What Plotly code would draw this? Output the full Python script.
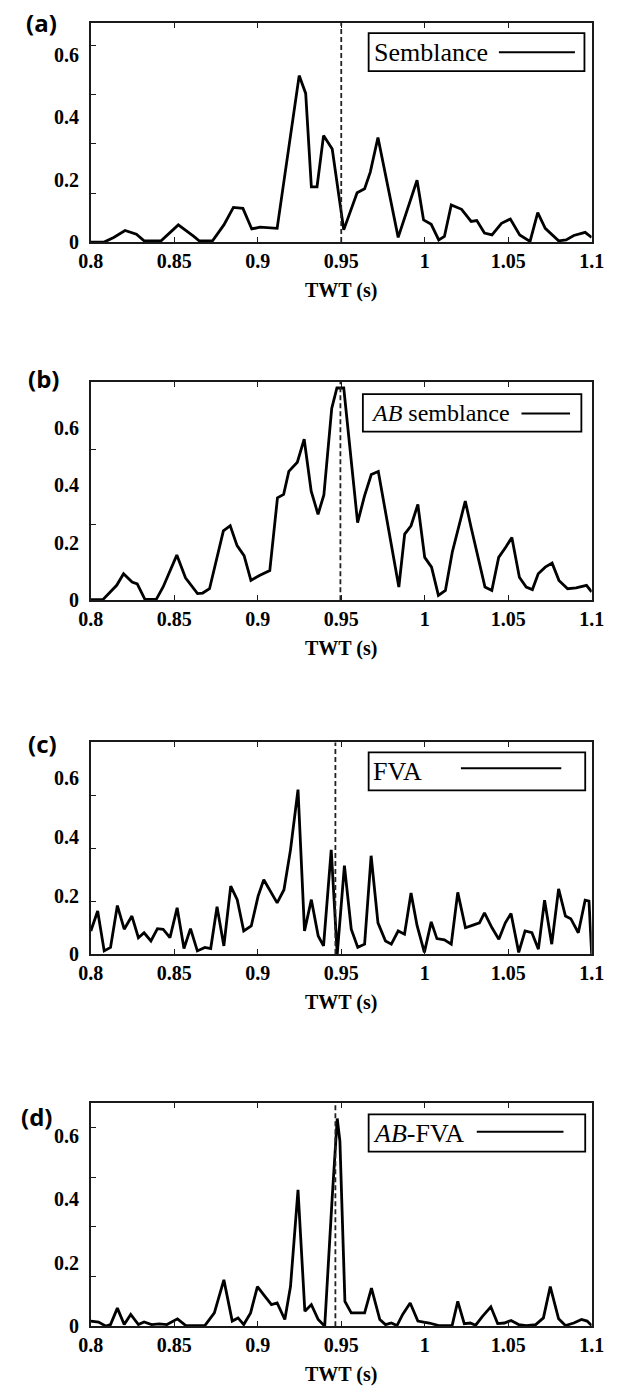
import plotly.graph_objects as go

W, H = 620, 1396

# ---------------- data ----------------
twt_a = [0.8000, 0.8080, 0.8137, 0.8205, 0.8273, 0.8319, 0.8421, 0.8524, 0.8615, 0.8649,
         0.8729, 0.8797, 0.8854, 0.8911, 0.8964, 0.9014, 0.9116, 0.9248, 0.9287, 0.9321,
         0.9355, 0.9394, 0.9446, 0.9515, 0.9595, 0.9640, 0.9674, 0.9720, 0.9841, 0.9954,
         0.9993, 1.0039, 1.0084, 1.0118, 1.0159, 1.0221, 1.0278, 1.0312, 1.0358, 1.0403,
         1.0460, 1.0513, 1.0569, 1.0631, 1.0677, 1.0722, 1.0802, 1.0847, 1.0893, 1.0961,
         1.1000]
semblance = [0.000, 0.000, 0.015, 0.037, 0.025, 0.004, 0.004, 0.055, 0.019, 0.004,
             0.004, 0.055, 0.111, 0.108, 0.042, 0.048, 0.044, 0.533, 0.476, 0.177,
             0.177, 0.341, 0.298, 0.039, 0.158, 0.171, 0.224, 0.335, 0.015, 0.198,
             0.071, 0.057, 0.007, 0.018, 0.119, 0.105, 0.066, 0.069, 0.029, 0.023,
             0.060, 0.074, 0.023, 0.002, 0.094, 0.044, 0.004, 0.007, 0.021, 0.031,
             0.015]

twt_b = [0.8000, 0.8072, 0.8155, 0.8196, 0.8247, 0.8278, 0.8324, 0.8392, 0.8433, 0.8515,
         0.8567, 0.8639, 0.8670, 0.8711, 0.8794, 0.8835, 0.8876, 0.8918, 0.8959, 0.9010,
         0.9072, 0.9118, 0.9155, 0.9186, 0.9237, 0.9278, 0.9320, 0.9361, 0.9396, 0.9443,
         0.9474, 0.9515, 0.9598, 0.9639, 0.9680, 0.9722, 0.9845, 0.9880, 0.9918, 0.9959,
         1.0000, 1.0041, 1.0082, 1.0124, 1.0165, 1.0243, 1.0278, 1.0361, 1.0402, 1.0443,
         1.0485, 1.0522, 1.0567, 1.0608, 1.0645, 1.0680, 1.0722, 1.0763, 1.0804, 1.0856,
         1.0907, 1.0969, 1.1000]
ab_semblance = [0.002, 0.002, 0.052, 0.092, 0.063, 0.057, 0.003, 0.003, 0.046, 0.157,
                0.078, 0.023, 0.025, 0.040, 0.241, 0.259, 0.190, 0.155, 0.069, 0.086,
                0.103, 0.356, 0.368, 0.448, 0.480, 0.560, 0.379, 0.299, 0.366, 0.667,
                0.738, 0.738, 0.270, 0.362, 0.437, 0.448, 0.046, 0.230, 0.259, 0.333,
                0.149, 0.115, 0.017, 0.034, 0.167, 0.345, 0.253, 0.046, 0.034, 0.149,
                0.184, 0.218, 0.080, 0.046, 0.037, 0.092, 0.115, 0.129, 0.069, 0.040,
                0.043, 0.052, 0.029]

twt_c = [0.8000, 0.8041, 0.8080, 0.8118, 0.8159, 0.8200, 0.8246, 0.8285, 0.8319, 0.8360,
         0.8399, 0.8433, 0.8474, 0.8517, 0.8558, 0.8597, 0.8638, 0.8683, 0.8718, 0.8756,
         0.8797, 0.8838, 0.8877, 0.8916, 0.8961, 0.9002, 0.9036, 0.9082, 0.9116, 0.9157,
         0.9196, 0.9241, 0.9280, 0.9321, 0.9362, 0.9394, 0.9440, 0.9476, 0.9519, 0.9560,
         0.9599, 0.9640, 0.9679, 0.9720, 0.9765, 0.9800, 0.9841, 0.9879, 0.9918, 0.9954,
         0.9998, 1.0039, 1.0073, 1.0118, 1.0159, 1.0198, 1.0244, 1.0285, 1.0328, 1.0358,
         1.0403, 1.0444, 1.0483, 1.0517, 1.0563, 1.0601, 1.0642, 1.0681, 1.0718, 1.0761,
         1.0802, 1.0843, 1.0875, 1.0920, 1.0961, 1.0984, 1.1000]
fva = [0.079, 0.147, 0.011, 0.023, 0.166, 0.085, 0.130, 0.056, 0.073, 0.045,
       0.087, 0.085, 0.056, 0.158, 0.019, 0.087, 0.011, 0.023, 0.019, 0.162,
       0.028, 0.232, 0.186, 0.079, 0.096, 0.198, 0.254, 0.209, 0.175, 0.220,
       0.356, 0.562, 0.079, 0.186, 0.062, 0.028, 0.356, 0.000, 0.302, 0.085,
       0.023, 0.034, 0.336, 0.107, 0.045, 0.034, 0.079, 0.068, 0.209, 0.098,
       0.006, 0.110, 0.053, 0.049, 0.034, 0.211, 0.090, 0.098, 0.107, 0.141,
       0.090, 0.051, 0.107, 0.139, 0.006, 0.079, 0.073, 0.017, 0.184, 0.034,
       0.223, 0.130, 0.121, 0.073, 0.184, 0.181, 0.000]

twt_d = [0.8000, 0.8046, 0.8091, 0.8118, 0.8159, 0.8200, 0.8239, 0.8285, 0.8319, 0.8364,
         0.8410, 0.8456, 0.8519, 0.8569, 0.8683, 0.8740, 0.8797, 0.8847, 0.8882, 0.8916,
         0.8957, 0.8998, 0.9036, 0.9082, 0.9116, 0.9162, 0.9196, 0.9241, 0.9282, 0.9321,
         0.9362, 0.9401, 0.9446, 0.9476, 0.9492, 0.9522, 0.9560, 0.9640, 0.9681, 0.9731,
         0.9765, 0.9800, 0.9834, 0.9868, 0.9913, 0.9959, 0.9993, 1.0027, 1.0084, 1.0164,
         1.0198, 1.0237, 1.0273, 1.0305, 1.0346, 1.0396, 1.0437, 1.0478, 1.0517, 1.0563,
         1.0608, 1.0665, 1.0711, 1.0752, 1.0802, 1.0843, 1.0893, 1.0939, 1.0973, 1.1000]
ab_fva = [0.016, 0.013, 0.000, 0.005, 0.057, 0.005, 0.037, 0.005, 0.013, 0.005,
          0.007, 0.005, 0.023, 0.002, 0.002, 0.042, 0.146, 0.016, 0.026, 0.005,
          0.042, 0.125, 0.099, 0.068, 0.073, 0.021, 0.125, 0.430, 0.047, 0.068,
          0.021, 0.000, 0.407, 0.655, 0.584, 0.078, 0.042, 0.042, 0.120, 0.021,
          0.005, 0.010, 0.002, 0.037, 0.073, 0.016, 0.013, 0.010, 0.002, 0.002,
          0.078, 0.008, 0.010, 0.003, 0.031, 0.061, 0.008, 0.010, 0.018, 0.005,
          0.002, 0.005, 0.026, 0.125, 0.023, 0.002, 0.010, 0.021, 0.016, 0.002]

marker_twt = [0.950, 0.9495, 0.9465, 0.9465]   # dashed reference times

panel_labels = ["(a)", "(b)", "(c)", "(d)"]
legend_texts = ["Semblance", "<i>AB</i> semblance", "FVA", "<i>AB</i>-FVA"]
x_tickvals = [0.8, 0.85, 0.9, 0.95, 1.0, 1.05, 1.1]
x_ticktext = ["0.8", "0.85", "0.9", "0.95", "1", "1.05", "1.1"]
y_tickvals = [0, 0.2, 0.4, 0.6]
y_ticktext = ["0", "0.2", "0.4", "0.6"]
x_title = "TWT (s)"

series = [(twt_a, semblance), (twt_b, ab_semblance), (twt_c, fva), (twt_d, ab_fva)]

# ---------------- geometry (pixels) ----------------
frame_x = (82, 603)
frames_y = [(23.3, 244.0), (385.0, 605.0), (748.3, 961.7), (1111.7, 1336.7)]
y_tops = [0.701, 0.759, 0.723, 0.704]
mark_ticks = [[0.156, 0.314, 0.471, 0.628], [0.262, 0.524],
              [0.181, 0.362, 0.542], [0.156, 0.313, 0.470, 0.626]]
legend_boxes = [(371, 33.3, 595.5, 71.7, 374, 506.5, 585.6, 52.7),
                (365, 397.3, 592.3, 435.0, 371, 530.0, 580.5, 416.7),
                (371, 758.3, 596.3, 796.7, 373, 467.0, 571.4, 774.3),
                (371, 1123.3, 596.3, 1160.7, 373, 483.5, 573.7, 1140.7)]
legend_sizes = [26, 24, 26, 26]
label_pos = [(31, 23), (33, 382), (32, 749), (25, 1125)]


def px(x):
    return x / W


def py(y):
    return 1 - y / H


serif = "Liberation Serif"
axis_col = "#1a1a1a"
tick_font = dict(family=serif, size=20, color="black", weight="bold")

fig = go.Figure()
layout = dict(width=W, height=H, margin=dict(l=0, r=0, t=0, b=0),
              paper_bgcolor="white", plot_bgcolor="white", showlegend=False)
shapes = []
annotations = []

for i, (xs, ys) in enumerate(series):
    n = "" if i == 0 else str(i + 1)
    xa, ya = "x" + n, "y" + n
    ra = "yaxis" + str(i + 5)          # right-side overlay axis for tick marks
    fig.add_trace(go.Scatter(x=xs, y=ys, mode="lines", xaxis=xa, yaxis=ya,
                             line=dict(color="black", width=2.8), hoverinfo="skip"))
    top, bot = frames_y[i]
    layout["xaxis" + n] = dict(
        domain=[px(frame_x[0]), px(frame_x[1])], anchor=ya, range=[0.8, 1.1],
        tickmode="array", tickvals=x_tickvals, ticktext=x_ticktext,
        ticks="inside", ticklen=5, tickwidth=1.4, tickcolor=axis_col,
        showline=True, linewidth=1.7, linecolor=axis_col, mirror="ticks",
        showgrid=False, zeroline=False, tickfont=tick_font,
        title=dict(text=x_title, standoff=12, font=tick_font))
    layout["yaxis" + n] = dict(
        domain=[py(bot), py(top)], anchor=xa, range=[0, y_tops[i]],
        tickmode="array", tickvals=y_tickvals, ticktext=y_ticktext,
        ticks="", ticklabelstandoff=6,
        minor=dict(tickmode="array", tickvals=mark_ticks[i], ticks="inside",
                   ticklen=5, tickwidth=1.4, tickcolor=axis_col, showgrid=False),
        showline=True, linewidth=1.7, linecolor=axis_col, mirror=True,
        showgrid=False, zeroline=False, tickfont=tick_font)
    layout[ra] = dict(
        overlaying=ya, side="right", anchor=xa, range=[0, y_tops[i]],
        tickmode="array", tickvals=mark_ticks[i], ticks="inside", ticklen=5,
        tickwidth=1.4, tickcolor=axis_col, showticklabels=False,
        showline=False, showgrid=False, zeroline=False)
    # dashed reference line
    shapes.append(dict(type="line", xref=xa, yref=ya + " domain",
                       x0=marker_twt[i], x1=marker_twt[i], y0=0, y1=1,
                       line=dict(color="#222", width=1.8, dash="5px,3px")))
    # legend box
    bx0, by0, bx1, by1, tx, lx0, lx1, ly = legend_boxes[i]
    shapes.append(dict(type="rect", xref="paper", yref="paper",
                       x0=px(bx0), x1=px(bx1), y0=py(by1), y1=py(by0),
                       line=dict(color="black", width=1.8), fillcolor="white"))
    shapes.append(dict(type="line", xref="paper", yref="paper",
                       x0=px(lx0), x1=px(lx1), y0=py(ly), y1=py(ly),
                       line=dict(color="black", width=2)))
    annotations.append(dict(text=legend_texts[i], xref="paper", yref="paper",
                            x=px(tx), y=py((by0 + by1) / 2), xanchor="left",
                            yanchor="middle", showarrow=False,
                            font=dict(family=serif, size=legend_sizes[i], color="black")))
    # panel label
    lx, ly2 = label_pos[i]
    annotations.append(dict(text=panel_labels[i], xref="paper", yref="paper",
                            x=px(lx), y=py(ly2), xanchor="center", yanchor="middle",
                            showarrow=False,
                            font=dict(family="Open Sans", size=24,
                                      color="black", weight="bold")))

layout["shapes"] = shapes
layout["annotations"] = annotations
fig.update_layout(**layout)
fig.write_html("out.html", config={"displayModeBar": False})
